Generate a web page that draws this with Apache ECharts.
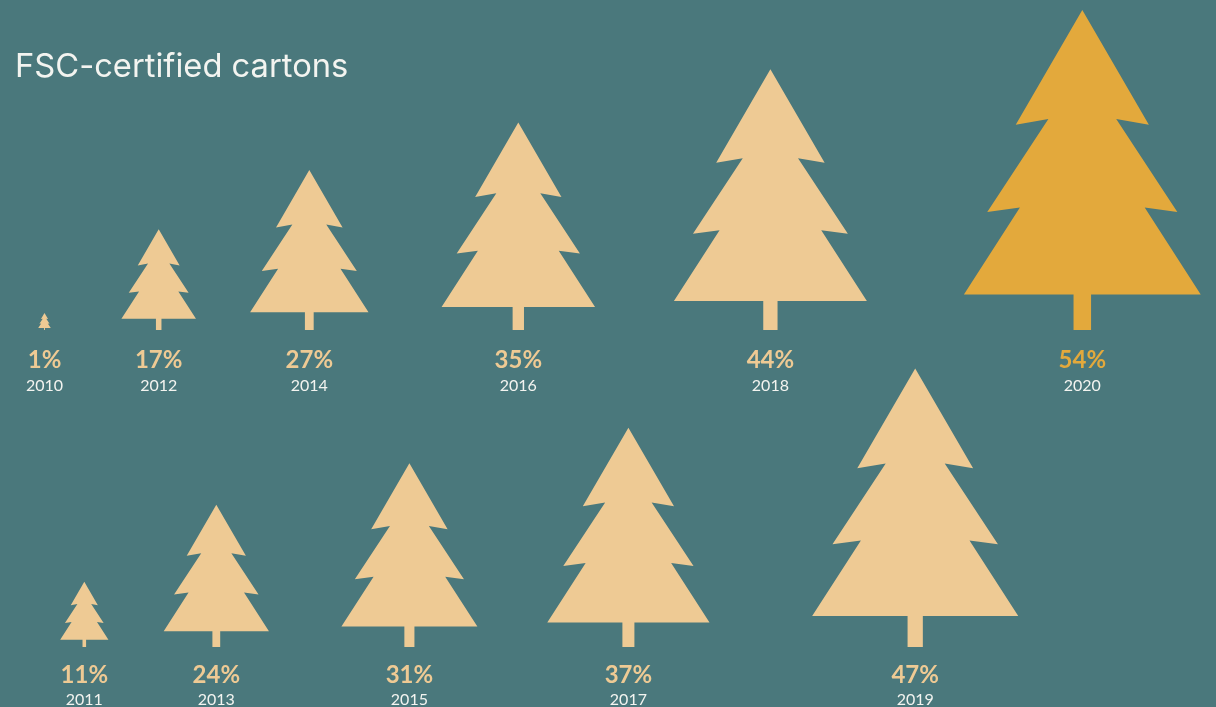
<!DOCTYPE html>
<html>
<head>
<meta charset="utf-8">
<style>html,body{margin:0;padding:0;background:#4A787C}#chart{width:1216px;height:707px}</style>
<script src="https://cdn.jsdelivr.net/npm/echarts@6/dist/echarts.min.js"></script>
</head>
<body>
<div id="chart"></div>
<script>
// Share of FSC-certified cartons by year, split over two rows of trees.
const titleText = 'FSC-certified cartons';
const upperYears = ['2010', '2012', '2014', '2016', '2018', '2020'];
const upperShares = [1, 17, 27, 35, 44, 54];
const lowerYears = ['2011', '2013', '2015', '2017', '2019'];
const lowerShares = [11, 24, 31, 37, 47];
const highlightYear = '2020';

// Horizontal layout of the trees on the page-wide x axis.
const upperCentres = [44.5, 158.7, 309.3, 518.3, 770.4, 1082.3];
const lowerCentres = [84.3, 216.3, 409.4, 628.4, 915.2];

const colors = { bg: '#4A787C', tree: '#EECA94', accent: '#E3A93C', text: '#F3F4F0' };
const shareMax = 54;
const treeMinHeight = 17; // keeps the very smallest tree legible

// Half of the tree outline as [dx, up], both as fractions of the tree height.
const treeOutline = [
  [0.0274, 0], [0.0274, 0.1113], [0.370, 0.1113], [0.195, 0.3826], [0.297, 0.369],
  [0.106, 0.659], [0.208, 0.6414], [0, 1]
];

function treeRenderer(pctOffset, yearOffset) {
  return function (params, api) {
    const x = api.value(0);
    const share = api.value(1);
    const year = String(api.value(2));
    const base = api.coord([x, 0]);
    const top = api.coord([x, share]);
    const h = Math.max(base[1] - top[1], treeMinHeight);
    const right = treeOutline.map(p => [base[0] + p[0] * h, base[1] - p[1] * h]);
    const left = treeOutline.slice(0, -1).reverse().map(p => [base[0] - p[0] * h, base[1] - p[1] * h]);
    const fill = year === highlightYear ? colors.accent : colors.tree;
    return {
      type: 'group',
      children: [
        { type: 'polygon', shape: { points: right.concat(left) }, style: { fill: fill } },
        { type: 'text', style: {
            x: base[0], y: base[1] + pctOffset, text: share + '%', fill: fill,
            font: '700 24px Lato', textAlign: 'center', textVerticalAlign: 'middle' } },
        { type: 'text', style: {
            x: base[0], y: base[1] + yearOffset, text: year, fill: colors.text,
            font: '400 16px Lato', textAlign: 'center', textVerticalAlign: 'middle' } }
      ]
    };
  };
}

function rowData(centres, shares, years) {
  return shares.map((s, i) => [centres[i], s, years[i]]);
}

const hiddenX = { type: 'value', min: 0, max: 1216, show: false };
const hiddenY = { type: 'value', min: 0, max: shareMax, show: false };

const chart = echarts.init(document.getElementById('chart'), null, { renderer: 'canvas' });
chart.setOption({
  backgroundColor: colors.bg,
  animation: false,
  title: {
    text: titleText, left: 10, top: 46,
    textStyle: { color: colors.text, fontFamily: 'Inter', fontWeight: 400, fontSize: 32.7 }
  },
  grid: [
    { left: 0, width: 1216, top: 10, height: 320 },
    { left: 0, width: 1216, top: 327, height: 320 }
  ],
  xAxis: [Object.assign({ gridIndex: 0 }, hiddenX), Object.assign({ gridIndex: 1 }, hiddenX)],
  yAxis: [Object.assign({ gridIndex: 0 }, hiddenY), Object.assign({ gridIndex: 1 }, hiddenY)],
  series: [
    {
      type: 'custom', name: 'Even years', xAxisIndex: 0, yAxisIndex: 0, clip: false,
      data: rowData(upperCentres, upperShares, upperYears),
      encode: { x: 0, y: 1 },
      renderItem: treeRenderer(30, 55.5)
    },
    {
      type: 'custom', name: 'Odd years', xAxisIndex: 1, yAxisIndex: 1, clip: false,
      data: rowData(lowerCentres, lowerShares, lowerYears),
      encode: { x: 0, y: 1 },
      renderItem: treeRenderer(28, 53)
    }
  ]
});
</script>
</body>
</html>
